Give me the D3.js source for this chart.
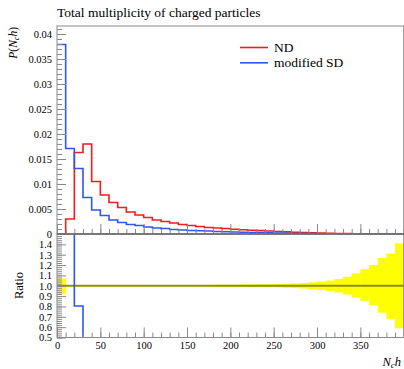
<!DOCTYPE html>
<html>
<head>
<meta charset="utf-8">
<script src="https://cdn.jsdelivr.net/npm/d3@7"></script>
<style>
  body { margin: 0; background: #fff; }
  text { font-family: "Liberation Serif", "DejaVu Serif", serif; fill: #000; }
</style>
</head>
<body>
<svg id="chart" width="404" height="369"></svg>
<script>
// bin edges every 10 in N_ch, 40 bins from 0 to 400
var binEdges = d3.range(0, 410, 10);

// ND (red) per bin
var ndValues = [0, 0.003, 0.0163, 0.018, 0.0105, 0.0078, 0.0063, 0.0053, 0.0044, 0.0038,
  0.0033, 0.0028, 0.0025, 0.0022, 0.0019, 0.0017, 0.0015, 0.0013, 0.0012, 0.0011,
  0.00095, 0.00085, 0.00075, 0.00068, 0.0006, 0.0005, 0.00042, 0.00035, 0.00028, 0.00022,
  0.00017, 0.00013, 0.0001, 0.00008, 0.00006, 0.00004, 0.00003, 0.00002, 0.000015, 0.00001];

// modified SD (blue) per bin
var sdValues = [0.0379, 0.0171, 0.0131, 0.0073, 0.0048, 0.0037, 0.0028, 0.0023, 0.0019, 0.0017,
  0.0014, 0.0012, 0.0011, 0.0009, 0.0008, 0.0007, 0.00065, 0.0006, 0.0005, 0.00045,
  0.0004, 0.00035, 0.0003, 0.00026, 0.00022, 0.00018, 0.00014, 0.00011, 0.00009, 0.00007,
  0.00005, 0.00004, 0.00003, 0.00002, 0.000015, 0.00001, 0.000008, 0.000006, 0.000004, 0.000003];

// ND relative uncertainty band (ratio panel), upper and lower
var bandUp = [1.07, 1.008, 1.008, 1.008, 1.008, 1.008, 1.008, 1.008, 1.008, 1.008,
  1.007, 1.007, 1.007, 1.007, 1.007, 1.008, 1.008, 1.008, 1.009, 1.009,
  1.01, 1.011, 1.012, 1.013, 1.014, 1.016, 1.019, 1.022, 1.027, 1.033,
  1.04, 1.05, 1.065, 1.087, 1.12, 1.16, 1.2, 1.27, 1.31, 1.41];
var bandDown = [0.92, 0.992, 0.992, 0.992, 0.992, 0.992, 0.992, 0.992, 0.992, 0.992,
  0.993, 0.993, 0.993, 0.993, 0.993, 0.992, 0.992, 0.992, 0.991, 0.991,
  0.99, 0.989, 0.988, 0.987, 0.986, 0.984, 0.981, 0.978, 0.973, 0.967,
  0.96, 0.95, 0.935, 0.915, 0.885, 0.855, 0.81, 0.74, 0.68, 0.59];

var xTickMajor = [0, 50, 100, 150, 200, 250, 300, 350];
var yTickLabels = ["0", "0.005", "0.01", "0.015", "0.02", "0.025", "0.03", "0.035", "0.04"];
var ratioTickLabels = ["0.5", "0.6", "0.7", "0.8", "0.9", "1.0", "1.1", "1.2", "1.3", "1.4"];

var seriesNames = ["ND", "modified SD"];
var seriesColors = ["#f21c1c", "#2e55f5"];

var svg = d3.select('#chart');

var x = d3.scaleLinear().domain([0, 400]).range([57, 403.7]);
var y = d3.scaleLinear().domain([0, 0.0416]).range([234, 26]);
var yr = d3.scaleLinear().domain([0.5, 1.5]).range([337.5, 234]);

var frameColor = '#8a8a8a';
var tickFont = 10.5;

// clip paths
var defs = svg.append('defs');
defs.append('clipPath').attr('id', 'clipMain').append('rect')
  .attr('x', 57).attr('y', 26).attr('width', 347).attr('height', 208);
defs.append('clipPath').attr('id', 'clipRatio').append('rect')
  .attr('x', 57).attr('y', 234).attr('width', 347).attr('height', 103.5);

var stepPath = function(values, scale) {
  var pts = [];
  values.forEach(function(v, i) {
    if (v == null || !isFinite(v)) return;
    pts.push([x(binEdges[i]), scale(v)]);
    pts.push([x(binEdges[i + 1]), scale(v)]);
  });
  return d3.line()(pts);
};

var grayTicks = function(g) {
  g.select('.domain').remove();
  g.selectAll('line').attr('stroke', frameColor);
  g.selectAll('text').attr('font-family', '"Liberation Serif", serif')
    .attr('font-size', tickFont).attr('fill', '#222');
};

// ---------- title ----------
svg.append('text').attr('x', 57).attr('y', 17).attr('font-size', 13.5)
  .text('Total multiplicity of charged particles');

// ---------- main panel ----------
var main = svg.append('g').attr('clip-path', 'url(#clipMain)');
[ndValues, sdValues].forEach(function(vals, k) {
  main.append('path').attr('d', stepPath(vals, y))
    .attr('fill', 'none').attr('stroke', seriesColors[k]).attr('stroke-width', 1.6);
});

// main y axis
svg.append('g').attr('transform', 'translate(57,0)')
  .call(d3.axisLeft(y).tickValues(d3.range(0, 42).map(function(i) { return i * 0.001; }))
    .tickSize(-5).tickFormat(''))
  .call(grayTicks);
svg.append('g').attr('transform', 'translate(57,0)')
  .call(d3.axisLeft(y).tickValues(yTickLabels.map(function(s) { return +s; }))
    .tickSize(-9).tickPadding(5)
    .tickFormat(function(d, i) { return yTickLabels[i]; }))
  .call(grayTicks);

// main x ticks (inward, no labels)
svg.append('g').attr('transform', 'translate(0,234)')
  .call(d3.axisBottom(x).tickValues(d3.range(0, 401, 10)).tickSize(-5).tickFormat(''))
  .call(grayTicks);
svg.append('g').attr('transform', 'translate(0,234)')
  .call(d3.axisBottom(x).tickValues(xTickMajor).tickSize(-10).tickFormat(''))
  .call(grayTicks);

// main frame
svg.append('rect').attr('x', 57).attr('y', 26).attr('width', 346.7).attr('height', 208)
  .attr('fill', 'none').attr('stroke', frameColor).attr('stroke-width', 1);

// legend
var legend = svg.append('g');
seriesNames.forEach(function(name, k) {
  var ly = 47.5 + k * 15.3;
  legend.append('line').attr('x1', 240).attr('x2', 268).attr('y1', ly).attr('y2', ly)
    .attr('stroke', seriesColors[k]).attr('stroke-width', 1.6);
  legend.append('text').attr('x', 274).attr('y', ly + 4.4).attr('font-size', 13.5).text(name);
});

// ---------- ratio panel ----------
var ratio = svg.append('g').attr('clip-path', 'url(#clipRatio)');
ratio.selectAll('rect.band').data(bandUp).enter().append('rect')
  .attr('class', 'band')
  .attr('x', function(d, i) { return x(binEdges[i]); })
  .attr('width', function(d, i) { return x(binEdges[i + 1]) - x(binEdges[i]) + 0.3; })
  .attr('y', function(d) { return yr(d); })
  .attr('height', function(d, i) { return yr(bandDown[i]) - yr(d); })
  .attr('fill', '#ffff00');

ratio.append('line').attr('x1', x(0)).attr('x2', x(400)).attr('y1', yr(1)).attr('y2', yr(1))
  .attr('stroke', '#8e8e12').attr('stroke-width', 1.8);

var sdRatio = sdValues.map(function(v, i) { return ndValues[i] > 0 ? v / ndValues[i] : null; });
ratio.append('path').attr('d', stepPath(sdRatio, yr))
  .attr('fill', 'none').attr('stroke', seriesColors[1]).attr('stroke-width', 1.6);

// ratio y axis
svg.append('g').attr('transform', 'translate(57,0)')
  .call(d3.axisLeft(yr).tickValues(d3.range(0, 50).map(function(i) { return 0.5 + i * 0.02; }))
    .tickSize(-5).tickFormat(''))
  .call(grayTicks);
svg.append('g').attr('transform', 'translate(57,0)')
  .call(d3.axisLeft(yr).tickValues(ratioTickLabels.map(function(s) { return +s; }))
    .tickSize(-9).tickPadding(5)
    .tickFormat(function(d, i) { return ratioTickLabels[i]; }))
  .call(grayTicks);

// ratio x axis
svg.append('g').attr('transform', 'translate(0,337.5)')
  .call(d3.axisBottom(x).tickValues(d3.range(0, 401, 10)).tickSize(-5).tickFormat(''))
  .call(grayTicks);
svg.append('g').attr('transform', 'translate(0,337.5)')
  .call(d3.axisBottom(x).tickValues(xTickMajor).tickSize(-10).tickPadding(4)
    .tickFormat(function(d) { return d; }))
  .call(grayTicks);

svg.append('rect').attr('x', 57).attr('y', 234).attr('width', 346.7).attr('height', 103.5)
  .attr('fill', 'none').attr('stroke', frameColor).attr('stroke-width', 1);
svg.append('line').attr('x1', 57).attr('x2', 404).attr('y1', 234).attr('y2', 234)
  .attr('stroke', '#6a6a6a').attr('stroke-width', 1.6);

// ---------- axis labels ----------
var yl = svg.append('text').attr('transform', 'translate(17,27) rotate(-90)')
  .attr('text-anchor', 'end').attr('font-size', 11.5).attr('font-style', 'italic');
yl.append('tspan').text('P');
yl.append('tspan').attr('font-style', 'normal').text('(');
yl.append('tspan').text('N');
yl.append('tspan').attr('font-size', 8).attr('dy', 2).text('c');
yl.append('tspan').attr('dy', -2).text('h');
yl.append('tspan').attr('font-style', 'normal').text(')');

svg.append('text').attr('transform', 'translate(23,285.5) rotate(-90)')
  .attr('text-anchor', 'middle').attr('font-size', 12.5).text('Ratio');

var xl = svg.append('text').attr('x', 401).attr('y', 366).attr('text-anchor', 'end')
  .attr('font-size', 12.5).attr('font-style', 'italic');
xl.append('tspan').text('N');
xl.append('tspan').attr('font-size', 9).attr('dy', 2).text('c');
xl.append('tspan').attr('dy', -2).text('h');
</script>
</body>
</html>
